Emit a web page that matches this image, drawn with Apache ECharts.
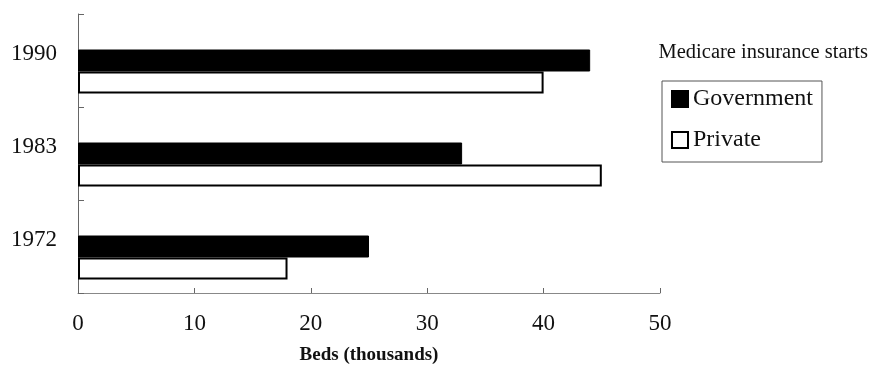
<!DOCTYPE html>
<html>
<head>
<meta charset="utf-8">
<script src="https://cdn.jsdelivr.net/npm/echarts@6/dist/echarts.min.js"></script>
<style>html,body{margin:0;padding:0;background:#fff;}#c{width:870px;height:371px;}</style>
</head>
<body>
<div id="c"></div>
<script>
const categories = ['1972', '1983', '1990'];
const government = [25, 33, 44];
const privateBeds = [18, 45, 40];
const xTicks = [0, 10, 20, 30, 40, 50];
const seriesNames = ['Government', 'Private'];
const annotation = 'Medicare insurance starts';
const xTitle = 'Beds (thousands)';

const FONT = '"Liberation Serif", "Times New Roman", serif';
const chart = echarts.init(document.getElementById('c'));
chart.setOption({
  animation: false,
  backgroundColor: '#fff',
  grid: { left: 78, right: 210, top: 14, bottom: 78 },
  xAxis: {
    type: 'value', min: xTicks[0], max: xTicks[xTicks.length - 1], interval: 10,
    axisLine: { show: true, lineStyle: { color: '#888', width: 1 } },
    axisTick: { show: true, inside: true, length: 5, lineStyle: { color: '#666' } },
    splitLine: { show: false },
    axisLabel: { fontFamily: FONT, fontSize: 23, color: '#111', margin: 19 },
    name: xTitle, nameLocation: 'middle', nameGap: 53,
    nameTextStyle: { fontFamily: FONT, fontSize: 19, fontWeight: 'bold', color: '#111' }
  },
  yAxis: {
    type: 'category', data: categories,
    axisLine: { show: true, lineStyle: { color: '#666', width: 1 } },
    axisTick: { show: true, inside: true, length: 6, alignWithLabel: false, lineStyle: { color: '#666' } },
    axisLabel: { fontFamily: FONT, fontSize: 23, color: '#111', margin: 21, verticalAlign: 'bottom', lineHeight: 14 }
  },
  legend: {
    data: seriesNames,
    orient: 'vertical', left: 662, top: 81,
    itemWidth: 16, itemHeight: 16, itemGap: 17,
    padding: [6, 9, 10, 9],
    borderColor: '#555', borderWidth: 1,
    icon: 'rect',
    textStyle: { fontFamily: FONT, fontSize: 24, color: '#111' }
  },
  graphic: [{
    type: 'text', right: 2, top: 42,
    style: { text: annotation, font: '20.5px ' + FONT, fill: '#111' }
  }],
  series: [
    { name: 'spacer', type: 'bar', data: categories.map(() => null), barWidth: 22, barGap: '0%', silent: true },
    { name: seriesNames[0], type: 'bar', data: government, barWidth: 22, barGap: '0%',
      itemStyle: { color: '#000', borderColor: '#000', borderWidth: 1 } },
    { name: seriesNames[1], type: 'bar', data: privateBeds, barWidth: 22, barGap: '0%',
      itemStyle: { color: '#fff', borderColor: '#000', borderWidth: 2 } }
  ]
});
</script>
</body>
</html>
